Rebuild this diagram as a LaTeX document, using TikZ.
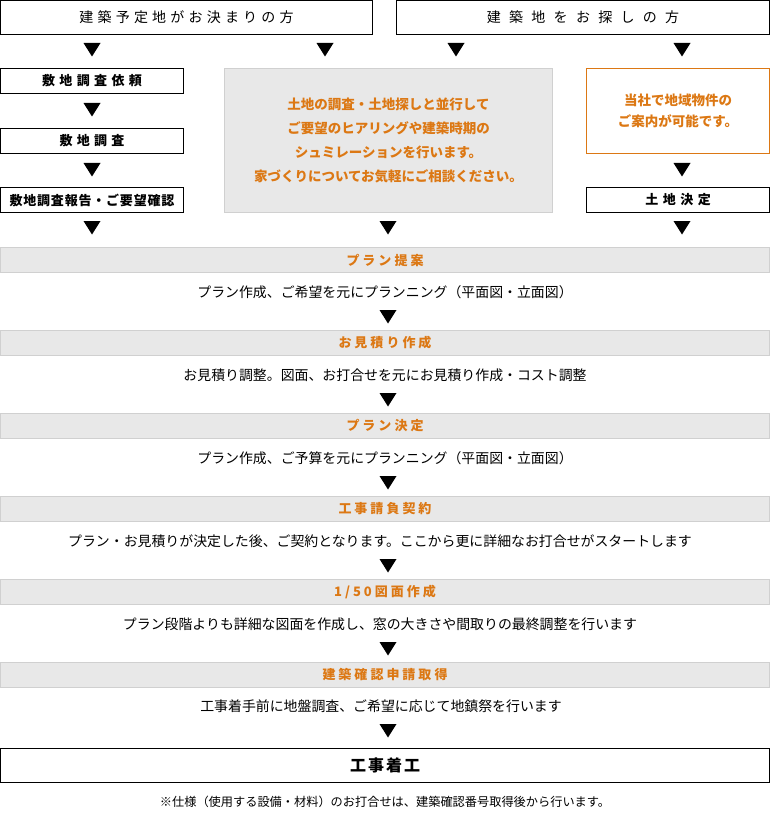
\documentclass[tikz,border=0pt]{standalone}
\usepackage{fontspec}
\setmainfont{Noto Sans CJK JP}
\definecolor{org}{HTML}{DC7814}
\definecolor{barfill}{HTML}{E8E8E8}
\definecolor{barline}{HTML}{D0D0D0}
\newcommand\lsp[2]{\def\lspskip{\hspace{#1}}\lspfirst#2\relax}
\def\lspfirst#1{#1\lsprest}
\def\lsprest#1{\ifx#1\relax\else\lspskip#1\expandafter\lsprest\fi}
\newcommand\fs[1]{\fontsize{#1}{#1}\selectfont}
\begin{document}
\begin{tikzpicture}[x=1pt,y=-1pt,
  base/.style={inner sep=0pt,outer sep=0pt,align=center},
  box/.style={base,draw=black,line width=1pt,fill=white},
  graybox/.style={base,draw=barline,line width=1.2pt,fill=barfill},
  orangebox/.style={base,draw=org,line width=1.2pt,fill=white},
  bar/.style={base,draw=barline,line width=1.5pt,fill=barfill,minimum width=769pt,minimum height=25pt,text=org,font=\bfseries\fs{13}},
  bodytext/.style={base,font=\fs{13.9}},
  dtri/.style={fill=black}
]
\useasboundingbox (0,0) rectangle (770,813);
\newcommand\tri[2]{\fill[dtri] (#1-8.5,#2) -- (#1+8.5,#2) -- (#1,#2+13.5) -- cycle;}

% top headers
\node[box,minimum width=372pt,minimum height=34pt,font=\fs{14}] (h1) at (186.5,17.5) {\raisebox{-0.8pt}{\lsp{4.2pt}{建築予定地がお決まりの方}}};
\node[box,minimum width=373pt,minimum height=34pt,font=\fs{14}] (h2) at (583,17.5) {\raisebox{-0.8pt}{\lsp{8.3pt}{建築地をお探しの方}}};

\tri{92}{43}\tri{325}{43}\tri{456}{43}\tri{682}{43}

% left column
\node[box,minimum width=183pt,minimum height=25pt,font=\bfseries\fs{13}] (l1) at (92,81) {\raisebox{-0.8pt}{\lsp{4.4pt}{敷地調査依頼}}};
\tri{92}{103}
\node[box,minimum width=183pt,minimum height=25pt,font=\bfseries\fs{13}] (l2) at (92,141) {\raisebox{-0.8pt}{\lsp{4.3pt}{敷地調査}}};
\tri{92}{163}
\node[box,minimum width=183pt,minimum height=25pt,font=\bfseries\fs{13}] (l3) at (92,200) {\raisebox{-0.8pt}{\lsp{0.8pt}{敷地調査報告・ご要望確認}}};

% middle
\node[graybox,minimum width=328pt,minimum height=144pt,text=org,font=\bfseries\fontsize{13.5}{23.7}\selectfont] (m) at (388.5,140.5)
  {土地の調査・土地探しと並行して\\ご要望のヒアリングや建築時期の\\シュミレーションを行います。\\家づくりについてお気軽にご相談ください。};

% right column
\node[orangebox,minimum width=183pt,minimum height=85pt,text=org,font=\bfseries\fontsize{13.5}{21}\selectfont] (r1) at (678,111)
  {当社で地域物件の\\ご案内が可能です。};
\tri{682}{163}
\node[box,minimum width=183pt,minimum height=25pt,font=\bfseries\fs{13}] (r2) at (678,200) {\raisebox{-0.8pt}{\lsp{4.5pt}{土地決定}}};

\tri{92}{221}\tri{388}{221}\tri{682}{221}

% steps
\node[bar] (b1) at (385,260) {\raisebox{-1pt}{\lsp{3pt}{プラン提案}}};
\node[bodytext] (t1) at (385,292.5) {プラン作成、ご希望を元にプランニング（平面図・立面図）};
\tri{388}{310}
\node[bar] (b2) at (385,343) {\raisebox{-1pt}{\lsp{3pt}{お見積り作成}}};
\node[bodytext] (t2) at (385,375.5) {お見積り調整。図面、お打合せを元にお見積り作成・コスト調整};
\tri{388}{393}
\node[bar] (b3) at (385,426) {\raisebox{-1pt}{\lsp{3pt}{プラン決定}}};
\node[bodytext] (t3) at (385,458.5) {プラン作成、ご予算を元にプランニング（平面図・立面図）};
\tri{388}{476}
\node[bar] (b4) at (385,509) {\raisebox{-1pt}{\lsp{3pt}{工事請負契約}}};
\node[bodytext] (t4) at (380,541.5) {プラン・お見積りが決定した後、ご契約となります。ここから更に詳細なお打合せがスタートします};
\tri{388}{559}
\node[bar] (b5) at (385,592) {\raisebox{-1pt}{\lsp{3pt}{1/50図面作成}}};
\node[bodytext] (t5) at (380,624.5) {プラン段階よりも詳細な図面を作成し、窓の大きさや間取りの最終調整を行います};
\tri{388}{642}
\node[bar] (b6) at (385,675) {\raisebox{-1pt}{\lsp{3pt}{建築確認申請取得}}};
\node[bodytext] (t6) at (381,706.5) {工事着手前に地盤調査、ご希望に応じて地鎮祭を行います};
\tri{388}{724}

\node[box,minimum width=769pt,minimum height=34pt,font=\bfseries\fs{16}] (end) at (385,765.5) {\raisebox{-1pt}{\lsp{2pt}{工事着工}}};
\node[base,font=\fs{12.2}] (note) at (385,801.5) {※仕様（使用する設備・材料）のお打合せは、建築確認番号取得後から行います。};
\end{tikzpicture}
\end{document}
